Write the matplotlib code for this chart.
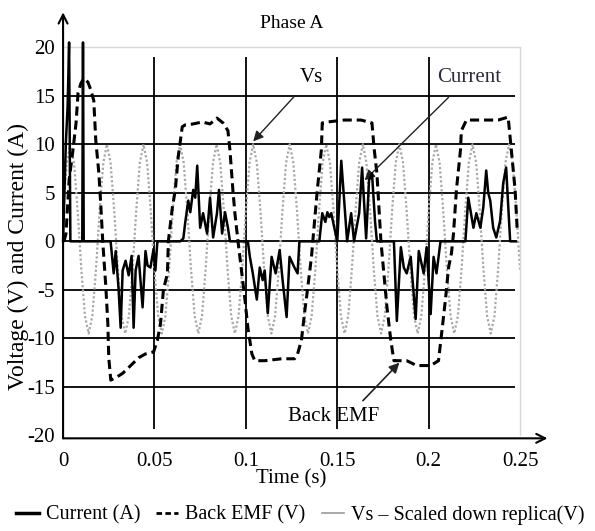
import numpy as np
import matplotlib.pyplot as plt
from matplotlib.lines import Line2D

plt.rcParams['font.family'] = ['Liberation Serif', 'DejaVu Serif']

# Vs - scaled down replica, sampled every 2 ms
vs_step = 0.002
vs = [3.1, 8.1, 10, 8.1, 3.1, -2.9, -7.7, -9.5, -7.7, -2.9,
      3.1, 8.1, 10, 8.1, 3.1, -2.9, -7.7, -9.5, -7.7, -2.9,
      3.1, 8.1, 10, 8.1, 3.1, -2.9, -7.7, -9.5, -7.7, -2.9,
      3.1, 8.1, 10, 8.1, 3.1, -2.9, -7.7, -9.5, -7.7, -2.9,
      3.1, 8.1, 10, 8.1, 3.1, -2.9, -7.7, -9.5, -7.7, -2.9,
      3.1, 8.1, 10, 8.1, 3.1, -2.9, -7.7, -9.5, -7.7, -2.9,
      3.1, 8.1, 10, 8.1, 3.1, -2.9, -7.7, -9.5, -7.7, -2.9,
      3.1, 8.1, 10, 8.1, 3.1, -2.9, -7.7, -9.5, -7.7, -2.9,
      3.1, 8.1, 10, 8.1, 3.1, -2.9, -7.7, -9.5, -7.7, -2.9,
      3.1, 8.1, 10, 8.1, 3.1, -2.9, -7.7, -9.5, -7.7, -2.9,
      3.1, 8.1, 10, 8.1, 3.1, -2.9, -7.7, -9.5, -7.7, -2.9,
      3.1, 8.1, 10, 8.1, 3.1, -2.9, -7.7, -9.5, -7.7, -2.9,
      3.1, 8.1, 10, 8.1, 3.1, -2.9]
vs_t = np.arange(len(vs)) * vs_step

# Back EMF (V)
emf_t = [0.0005, 0.0016, 0.0033, 0.0054, 0.0071, 0.0082, 0.0098, 0.0114, 0.0136, 0.0152,
         0.0168, 0.0179, 0.0196, 0.0207, 0.0217, 0.0234, 0.0245, 0.0250, 0.0261, 0.0293,
         0.0326, 0.0359, 0.0397, 0.0413, 0.0451, 0.0495, 0.0516, 0.0533, 0.0549, 0.0571,
         0.0576, 0.0598, 0.0614, 0.0630, 0.0652, 0.0668, 0.0712, 0.0761, 0.0804, 0.0842,
         0.0875, 0.0902, 0.0913, 0.0929, 0.0940, 0.0957, 0.0978, 0.0995, 0.1011, 0.1033,
         0.1049, 0.1103, 0.1196, 0.1266, 0.1283, 0.1304, 0.1321, 0.1337, 0.1359, 0.1375,
         0.1391, 0.1413, 0.1418, 0.1446, 0.1538, 0.1630, 0.1690, 0.1701, 0.1717, 0.1728,
         0.1739, 0.1755, 0.1772, 0.1793, 0.1810, 0.1880, 0.1935, 0.2011, 0.2054, 0.2071,
         0.2092, 0.2109, 0.2125, 0.2136, 0.2152, 0.2174, 0.2179, 0.2207, 0.2288, 0.2380,
         0.2435, 0.2451, 0.2473, 0.2484]
emf = [0, 0.8, 6.3, 9.4, 12.2, 15.3, 16.3, 16.8, 16.4, 15.6,
       14.5, 10.4, 7, 3.5, 0, -4.7, -8.5, -12, -14.3, -14,
       -13.6, -13, -12.3, -12, -11.6, -11.4, -10.2, -8.5, -5, -3.3,
       0, 3.5, 5.3, 8.7, 11.8, 12, 12.1, 12.3, 12.1, 12.7,
       12.2, 11.4, 9.4, 5.3, 2.9, 0, -3.3, -6, -8.9, -11.6,
       -12.3, -12.3, -12.1, -12.1, -11.6, -10.2, -7.4, -5, -1.6, 1.9,
       5.3, 9.4, 12.2, 12.3, 12.5, 12.5, 12.2, 9.7, 7, 3.5,
       0, -3.3, -6.8, -10.2, -12.3, -12.3, -12.8, -12.8, -12.3, -9.5,
       -6, -2.7, -1.2, 0.8, 5.3, 9.4, 11.4, 12.5, 12.5, 12.5,
       12.8, 9.7, 5.3, 1.4]

# Current (A)
cur_t = [0.0000, 0.0015, 0.0025, 0.0033, 0.0040, 0.0105, 0.0109, 0.0113, 0.0260,
         0.0277, 0.0288, 0.0304, 0.0315, 0.0326, 0.0342, 0.0359, 0.0375, 0.0386, 0.0397,
         0.0413, 0.0435, 0.0451, 0.0462, 0.0478, 0.0495, 0.0505, 0.0516,
         0.0641, 0.0658, 0.0668, 0.0685, 0.0696, 0.0712, 0.0723, 0.0734, 0.0750, 0.0766,
         0.0788, 0.0804, 0.0821, 0.0842, 0.0853, 0.0870, 0.0886, 0.0902, 0.0913,
         0.1011, 0.1022, 0.1038, 0.1060, 0.1076, 0.1092, 0.1103, 0.1120, 0.1141, 0.1163,
         0.1185, 0.1201, 0.1223, 0.1239, 0.1266, 0.1283, 0.1293,
         0.1402, 0.1418, 0.1435, 0.1446, 0.1457, 0.1467, 0.1500, 0.1511, 0.1522, 0.1538,
         0.1554, 0.1576, 0.1592, 0.1620, 0.1636, 0.1658, 0.1674, 0.1690, 0.1707, 0.1717,
         0.1810, 0.1826, 0.1848, 0.1864, 0.1880, 0.1902, 0.1929, 0.1946, 0.1973, 0.1989,
         0.2011, 0.2027, 0.2043, 0.2065,
         0.2201, 0.2217, 0.2245, 0.2261, 0.2283, 0.2299, 0.2315, 0.2326, 0.2337, 0.2353,
         0.2370, 0.2391, 0.2408, 0.2424, 0.2446, 0.2478]
cur = [0, 10, 14, 20.5, 0, 0, 20.5, 0, 0,
       -3.3, -1, -5, -8.9, -3, -2, -3.5, -1.5, -8.9, -3,
       -1.5, -6.8, -1, -2.5, -2.7, -0.8, -3, 0,
       0, 0.3, 1.9, 4.2, 3, 5.3, 4.5, 7.8, 1.4, 2.9,
       0.8, 4.5, 0.4, 2.9, 5.3, 0.8, 3, 1.4, 0,
       0, -1.6, -3.3, -6, -2.7, -4, -3, -7.4, -1.6, -3.3,
       -0.9, -4, -7.8, -1.6, -2.7, -3.3, 0,
       0, 2.9, 2, 3, 2.5, 2.9, 0, 4, 8.3, 4.2,
       0, 2.9, 0, 2.9, 7.6, 0.3, 6.3, 7, 2, 0,
       0, -8.2, -0.6, -2.7, -3.3, -1.6, -8, -1, -3.3, -0.6,
       -7.5, -1.6, -3.3, 0,
       0, 4.5, 1.4, 2.9, 1.4, 3.5, 7.3, 5, 4.2, 1.4,
       0.4, 2.1, 6, 7.6, 0, 0]

h_grid = [-15, -10, -5, 0, 5, 10, 15]
v_grid = [0.05, 0.1, 0.15, 0.2]
x_ticks = [0, 0.05, 0.1, 0.15, 0.2, 0.25]
x_labels = ['0', '0.05', '0.1', '0.15', '0.2', '0.25']
y_ticks = [-20, -15, -10, -5, 0, 5, 10, 15, 20]
y_labels = ['-20', '-15', '-10', '-5', '0', '5', '10', '15', '20']

fig = plt.figure(figsize=(5.95, 5.31), dpi=100)
ax = fig.add_axes([0.106, 0.180, 0.768, 0.731])
ax.set_xlim(0, 0.25)
ax.set_ylim(-20, 20)

ax.hlines(h_grid, 0, 0.2475, colors='black', lw=1.3, zorder=1)
ax.vlines(v_grid, -19.3, 19, colors='black', lw=1.3, zorder=1)

ax.plot(vs_t, vs, color='#a8a8a8', lw=1.6, ls=(0, (1, 1)), zorder=2)
ax.plot(emf_t, emf, color='black', lw=2.2, ls=(0, (3, 1.6)), zorder=3)
ax.plot(cur_t, cur, color='black', lw=1.8, zorder=4, clip_on=False)

for s in ['left', 'bottom']:
    ax.spines[s].set_visible(False)
for s in ['top', 'right']:
    ax.spines[s].set_color('#d8d8d8')
    ax.spines[s].set_linewidth(1.0)

# axis arrows
ax.annotate('', xy=(0, 23.6), xytext=(0, -20.3), annotation_clip=False,
            arrowprops=dict(arrowstyle='->', lw=1.5, color='black', shrinkA=0, shrinkB=0,
                            mutation_scale=16))
ax.annotate('', xy=(0.265, -20.3), xytext=(0, -20.3), annotation_clip=False,
            arrowprops=dict(arrowstyle='->', lw=1.5, color='black', shrinkA=0, shrinkB=0,
                            mutation_scale=16))

ax.set_xticks(x_ticks)
ax.set_xticklabels(x_labels)
ax.set_yticks(y_ticks)
ax.set_yticklabels(y_labels)
ax.tick_params(length=0, labelsize=15)
ax.tick_params(axis='x', pad=12)
ax.tick_params(axis='y', pad=6)

ax.set_xlabel('Time (s)', fontsize=15, labelpad=-1)
ax.set_ylabel('Voltage (V) and Current (A)', fontsize=17)
ax.yaxis.set_label_coords(-0.075, 0.46)
ax.set_title('Phase A', fontsize=14, pad=14)

ax.annotate('Vs', xy=(0.104, 10.3), xytext=(0.136, 16.9), fontsize=15, ha='center', va='center',
            arrowprops=dict(arrowstyle='-|>', color='#222222', lw=1.0, shrinkA=6, shrinkB=0))
ax.annotate('Current', xy=(0.165, 6.3), xytext=(0.222, 16.9), fontsize=15, ha='center', va='center',
            color='#2a2a3a',
            arrowprops=dict(arrowstyle='-|>', color='#222222', lw=1.0, shrinkA=8, shrinkB=0))
ax.annotate('Back EMF', xy=(0.184, -12.5), xytext=(0.148, -18.1), fontsize=15, ha='center', va='center',
            arrowprops=dict(arrowstyle='-|>', color='#222222', lw=1.2, shrinkA=4, shrinkB=0,
                            relpos=(0.75, 1.0)))

handles = [Line2D([], [], color='black', lw=2.5),
           Line2D([], [], color='black', lw=2.0, ls=(0, (2, 1.2))),
           Line2D([], [], color='#9a9a9a', lw=1.2)]
labels = ['Current (A)', 'Back EMF (V)', 'Vs \u2013 Scaled down replica(V)']
fig.legend(handles, labels, loc='lower center', bbox_to_anchor=(0.505, -0.022), ncol=3,
           frameon=False, fontsize=14.5, handlelength=1.1, handletextpad=0.35,
           columnspacing=0.8)

fig.savefig('out.png', dpi=100)
